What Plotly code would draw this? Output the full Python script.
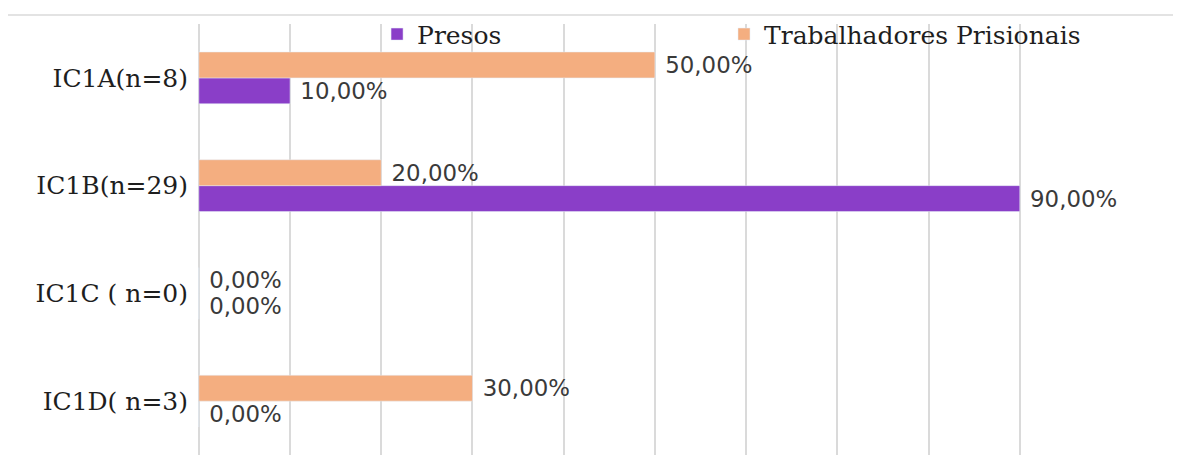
import plotly.graph_objects as go

categories = ["IC1A(n=8)", "IC1B(n=29)", "IC1C ( n=0)", "IC1D( n=3)"]
presos = [0.10, 0.90, 0.0, 0.0]
trabalhadores = [0.50, 0.20, 0.0, 0.30]
series_names = ["Presos", "Trabalhadores Prisionais"]
x_ticks = [0, 0.1, 0.2, 0.3, 0.4, 0.5, 0.6, 0.7, 0.8, 0.9, 1.0]

label_font = dict(family="DejaVu Sans", size=23, color="#3A3A3A")
legend_font = dict(family="DejaVu Serif", size=25, color="#1E1E1E")

fig = go.Figure()
fig.add_trace(go.Bar(
    y=categories, x=presos, name=series_names[0], orientation="h",
    marker=dict(color="#8A3EC8"), legend="legend",
    texttemplate=" %{x:.2%}", textposition="outside", textfont=label_font,
    cliponaxis=False,
))
fig.add_trace(go.Bar(
    y=categories, x=trabalhadores, name=series_names[1], orientation="h",
    marker=dict(color="#F4AE80"), legend="legend2",
    texttemplate=" %{x:.2%}", textposition="outside", textfont=label_font,
    cliponaxis=False,
))

fig.update_layout(
    width=1173, height=451,
    margin=dict(l=189, r=70, t=15, b=4),
    paper_bgcolor="white", plot_bgcolor="white",
    barmode="group", bargap=0.52, bargroupgap=0,
    separators=",.",
    showlegend=True,
    legend=dict(
        orientation="h", x=0.197, y=1.027, xanchor="left", yanchor="top",
        font=legend_font, bgcolor="rgba(0,0,0,0)",
    ),
    legend2=dict(
        orientation="h", x=0.5766, y=1.027, xanchor="left", yanchor="top",
        font=legend_font, bgcolor="rgba(0,0,0,0)",
    ),
    xaxis=dict(
        range=[-0.002, 1.0], tickvals=x_ticks, showticklabels=False,
        showgrid=True, gridcolor="#DADADA", gridwidth=2,
        zeroline=False, showline=False,
    ),
    yaxis=dict(
        categoryorder="array", categoryarray=categories[::-1],
        tickfont=dict(family="DejaVu Serif", size=25, color="#1E1E1E"),
        showgrid=False, zeroline=False, showline=False, ticks="",
        ticklabelstandoff=8,
    ),
)

fig.add_shape(type="line", xref="paper", yref="paper",
              x0=-0.207, x1=1.08, y0=1.021, y1=1.021,
              line=dict(color="#E3E3E3", width=2))

fig.write_html("out.html")
